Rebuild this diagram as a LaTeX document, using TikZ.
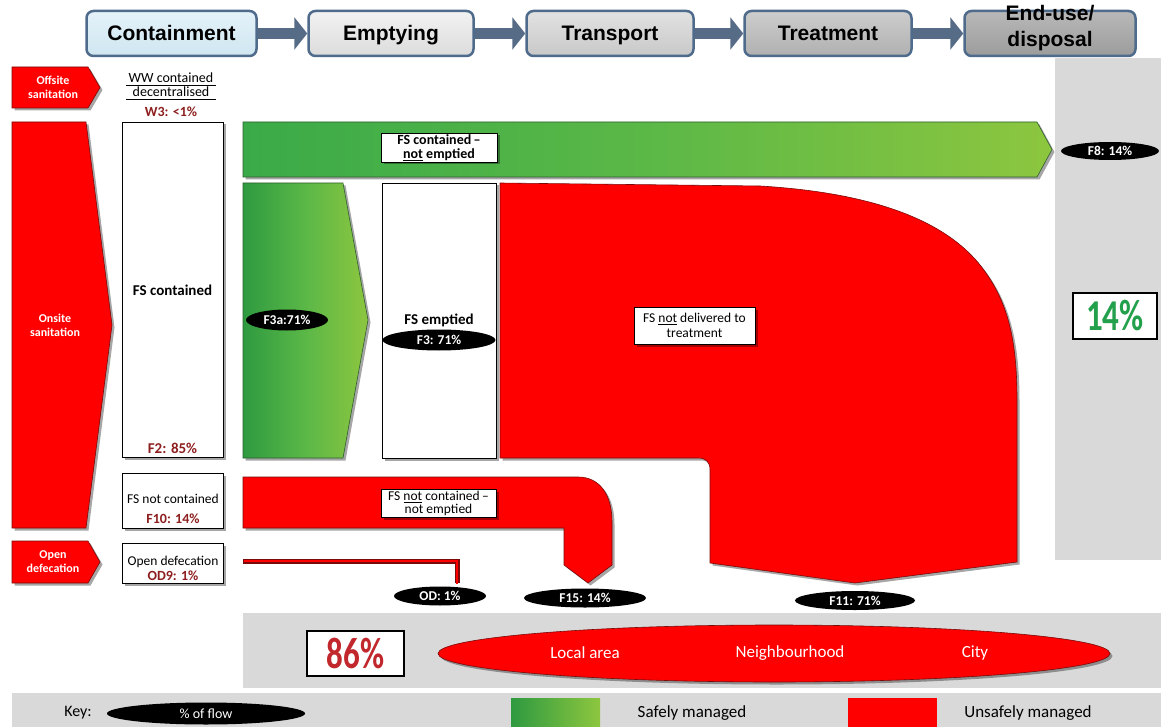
\documentclass[tikz,border=0pt]{standalone}
\usepackage{fontspec}
\setmainfont{Carlito}
\newfontfamily\hdrfont{Liberation Sans}
\newfontfamily\narrowfont[FakeStretch=0.75]{Carlito}
\usetikzlibrary{shapes.geometric,shadows,arrows.meta}

\newcommand\fsz[1]{\fontsize{#1}{#1}\selectfont}

\definecolor{hdrborder}{HTML}{4F6B8C}
\definecolor{hdrarrow}{HTML}{566B86}
\definecolor{flowred}{HTML}{FF0000}
\definecolor{redline}{HTML}{7A0A0A}
\definecolor{gdark}{HTML}{3AAA48}
\definecolor{gdeep}{HTML}{2E9A40}
\definecolor{gmid}{HTML}{5BB847}
\definecolor{glight}{HTML}{8DC63F}
\definecolor{gborder}{HTML}{2E5E2E}
\definecolor{panelgrey}{HTML}{D9D9D9}
\definecolor{labelred}{HTML}{8E1F1F}
\definecolor{pctgreen}{HTML}{22A04B}
\definecolor{pctred}{HTML}{C1272D}
\definecolor{contTop}{HTML}{E4F2F9}
\definecolor{contBot}{HTML}{CFE6F1}
\definecolor{emptTop}{HTML}{F2F2F2}
\definecolor{emptBot}{HTML}{DCDCDC}
\definecolor{tranTop}{HTML}{E2E2E2}
\definecolor{tranBot}{HTML}{C8C8C8}
\definecolor{treatTop}{HTML}{CDCDCD}
\definecolor{treatBot}{HTML}{B0B0B0}
\definecolor{endTop}{HTML}{B8B8B8}
\definecolor{endBot}{HTML}{9C9C9C}

\tikzset{
  shade2/.style={drop shadow={shadow xshift=2.5pt, shadow yshift=-2.5pt, opacity=0.35, fill=black}},
  hdr/.style={draw=hdrborder, line width=2.5pt, rounded corners=7pt,
    minimum height=45pt, inner sep=0pt, text height=15pt, text depth=0pt,
    font=\hdrfont\bfseries\fsz{21}, align=center},
  hdrlink/.style={hdrarrow, line width=11pt, -{Triangle[length=13pt,width=32pt]}},
  redtag/.style={fill=flowred, draw=redline, line width=0.6pt, shade2},
  tagtext/.style={text=white, font=\bfseries\fontsize{12}{14}\selectfont, align=center, inner sep=0pt},
  colbox/.style={draw=black, line width=0.8pt, fill=white, inner sep=0pt, shade2},
  coltext/.style={font=\bfseries\fsz{15}, inner sep=0pt},
  colplain/.style={font=\fsz{13.5}, inner sep=0pt},
  colpct/.style={text=labelred, font=\bfseries\fsz{14}, inner sep=0pt},
  greenflow/.style={left color=gdark, right color=glight, draw=gborder, line width=0.6pt, shade2},
  redflow/.style={fill=flowred, draw=redline, line width=0.6pt, shade2},
  flowlab/.style={draw=black, line width=0.7pt, fill=white, inner sep=0pt,
    align=center, font=\fontsize{14}{14.5}\selectfont, shade2},
  pct/.style={ellipse, fill=black, text=white, inner sep=0pt, font=\bfseries\fsz{13.5}},
  bigpct/.style={draw=black, line width=2.5pt, fill=white, inner sep=0pt,
    font=\narrowfont\bfseries\fsz{44}},
  scaletxt/.style={text=white, font=\fsz{17}, inner sep=0pt},
  keytxt/.style={font=\fsz{17}, inner sep=0pt}
}

\begin{document}
\begin{tikzpicture}[x=1pt,y=-1pt]
\useasboundingbox (0,0) rectangle (1161,727);
\fill[white] (0,0) rectangle (1161,727);

% grey panels: end-use column, spatial scale band, key strip
\fill[panelgrey] (1055,58) rectangle (1161,560);
\fill[panelgrey] (243,613) rectangle (1161,688);
\fill[panelgrey] (12,693) rectangle (1161,727);

% service chain header
\node[hdr, top color=contTop, bottom color=contBot, minimum width=170pt] (hcont) at (171.5,33.5) {Containment};
\node[hdr, top color=emptTop, bottom color=emptBot, minimum width=165pt] (hempt) at (391,33.5) {Emptying};
\node[hdr, top color=tranTop, bottom color=tranBot, minimum width=167pt] (htran) at (610,33.5) {Transport};
\node[hdr, top color=treatTop, bottom color=treatBot, minimum width=167pt] (htreat) at (828,33.5) {Treatment};
\node[hdr, top color=endTop, bottom color=endBot, minimum width=171pt] (hend) at (1050,33.5) {};
\node[font=\hdrfont\bfseries\fontsize{21}{26}\selectfont, align=center, inner sep=0pt] (hendtxt) at (1050,28) {End-use/\\disposal};
\draw[hdrlink] (hcont.east) -- (hempt.west);
\draw[hdrlink] (hempt.east) -- (htran.west);
\draw[hdrlink] (htran.east) -- (htreat.west);
\draw[hdrlink] (htreat.east) -- (hend.west);

% sanitation system tags
\filldraw[redtag] (12,67) -- (88,67) -- (100,87.5) -- (88,108) -- (12,108) -- cycle;
\node[tagtext] (offsite) at (53,87.5) {Offsite\\sanitation};
\filldraw[redtag] (12,122) -- (86,122) -- (112,325) -- (86,528) -- (12,528) -- cycle;
\node[tagtext] (onsite) at (55,325) {Onsite\\sanitation};
\filldraw[redtag] (12,541) -- (88,541) -- (100,562) -- (88,583) -- (12,583) -- cycle;
\node[tagtext] (opendef) at (53,562) {Open\\defecation};

% containment column
\node[font=\fsz{14}, inner sep=0pt] (wwcont) at (171,78) {WW contained};
\node[font=\fsz{14}, inner sep=0pt] (wwdec) at (171,92) {decentralised};
\draw[line width=0.6pt] (126,85.5) -- (216,85.5);
\draw[line width=0.6pt] (126,99.5) -- (216,99.5);
\node[colpct] (w3) at (171,112) {W3: <1\%};

\node[colbox, minimum width=101pt, minimum height=335pt] (fscont) at (172.5,289.5) {};
\node[coltext] (fscontt) at (172.5,290) {FS contained};
\node[colpct, font=\bfseries\fsz{15}] (f2) at (172.5,448) {F2: 85\%};

\node[colbox, minimum width=101pt, minimum height=55pt] (fsnot) at (172.5,500.5) {};
\node[colplain] (fsnott) at (173,499) {FS not contained};
\node[colpct] (f10) at (173,519) {F10: 14\%};

\node[colbox, minimum width=101pt, minimum height=40pt] (odbox) at (172.5,563) {};
\node[colplain] (odt) at (173,562) {Open defecation};
\node[colpct] (od9) at (173,576) {OD9: 1\%};

% safely managed flows
\shadedraw[greenflow, middle color=gmid] (243,122) -- (1037,122) -- (1052,149.5) -- (1037,177) -- (243,177) -- cycle;
\node[flowlab, minimum width=116pt, minimum height=29pt] (notempt) at (439,147.5)
  {\bfseries FS contained\,--\\\bfseries\underline{not} emptied};
\node[pct, minimum width=98pt, minimum height=18pt] (f8) at (1110,151) {F8: 14\%};

\shadedraw[greenflow, left color=gdeep, middle color=gmid] (243,183) -- (343,183) -- (368,320) -- (343,458) -- (243,458) -- cycle;
\node[pct, minimum width=82pt, minimum height=21pt] (f3a) at (287,320) {F3a:71\%};

\node[colbox, minimum width=114pt, minimum height=275pt] (fsempt) at (439,320.5) {};
\node[coltext] (fsemptt) at (439,320) {FS emptied};
\node[pct, minimum width=113pt, minimum height=21pt] (f3) at (439,340) {F3: 71\%};

% unsafely managed flows
\filldraw[redflow] (500,183) -- (760,186)
  .. controls (860,192) and (940,215) .. (980,265)
  .. controls (1008,300) and (1017,340) .. (1017,400)
  -- (1017,562) -- (855,583) -- (710,563) -- (710,470)
  .. controls (710,462) and (706,458) .. (698,458) -- (500,458) -- cycle;
\node[flowlab, font=\fontsize{13.5}{14.5}\selectfont, minimum width=121pt, minimum height=37pt] (notdeliv) at (694.5,325.5)
  {FS \underline{not} delivered to\\treatment};

\filldraw[redflow] (243,477) -- (578,477)
  .. controls (600,477) and (612,495) .. (612,522)
  -- (612,565) -- (588,583) -- (564,565) -- (564,528) -- (243,528) -- cycle;
\node[flowlab, font=\fontsize{13.5}{13.5}\selectfont, minimum width=115pt, minimum height=28pt] (notcontflow) at (438.5,503.5)
  {FS \underline{not} contained\,--\\not emptied};

\coordinate (odstart) at (243,561);
\coordinate (odbend) at (457,561);
\coordinate (odend) at (457,583);
\draw[redline, line width=5pt] (odstart) -- (odbend) -- (odend);
\draw[flowred, line width=2.6pt] ([xshift=1pt]odstart) -- (odbend) -- ([yshift=-1pt]odend);

\node[pct, minimum width=92pt, minimum height=19pt] (od1) at (440,596) {OD: 1\%};
\node[pct, minimum width=122pt, minimum height=19pt] (f15) at (585,598) {F15: 14\%};
\node[pct, minimum width=120pt, minimum height=19pt] (f11) at (855,600.5) {F11: 71\%};

% headline shares
\node[bigpct, text=pctgreen, minimum width=84pt, minimum height=46pt] (safe) at (1115,316) {14\%};
\node[bigpct, text=pctred, minimum width=97pt, minimum height=45pt] (unsafe) at (355.5,653.5) {86\%};

% spatial scale of unsafe flows
\node[ellipse, fill=flowred, draw=redline, line width=0.6pt, minimum width=672pt, minimum height=57pt, shade2] (scale) at (774,653.5) {};
\node[scaletxt] (local) at (585,653) {Local area};
\node[scaletxt] (neigh) at (790,653) {Neighbourhood};
\node[scaletxt] (city) at (975,653) {City};

% key
\node[keytxt, font=\fsz{16}] (key) at (78,713) {Key:};
\node[pct, font=\fsz{14}, minimum width=198pt, minimum height=22pt] (keypct) at (206,713.5) {\% of flow};
\shade[left color=gdeep, middle color=gmid, right color=glight] (511,698) rectangle (600,727);
\node[keytxt] (safekey) at (692,713) {Safely managed};
\fill[flowred] (848,698) rectangle (937,727);
\node[keytxt] (unsafekey) at (1028,713) {Unsafely managed};
\end{tikzpicture}
\end{document}
